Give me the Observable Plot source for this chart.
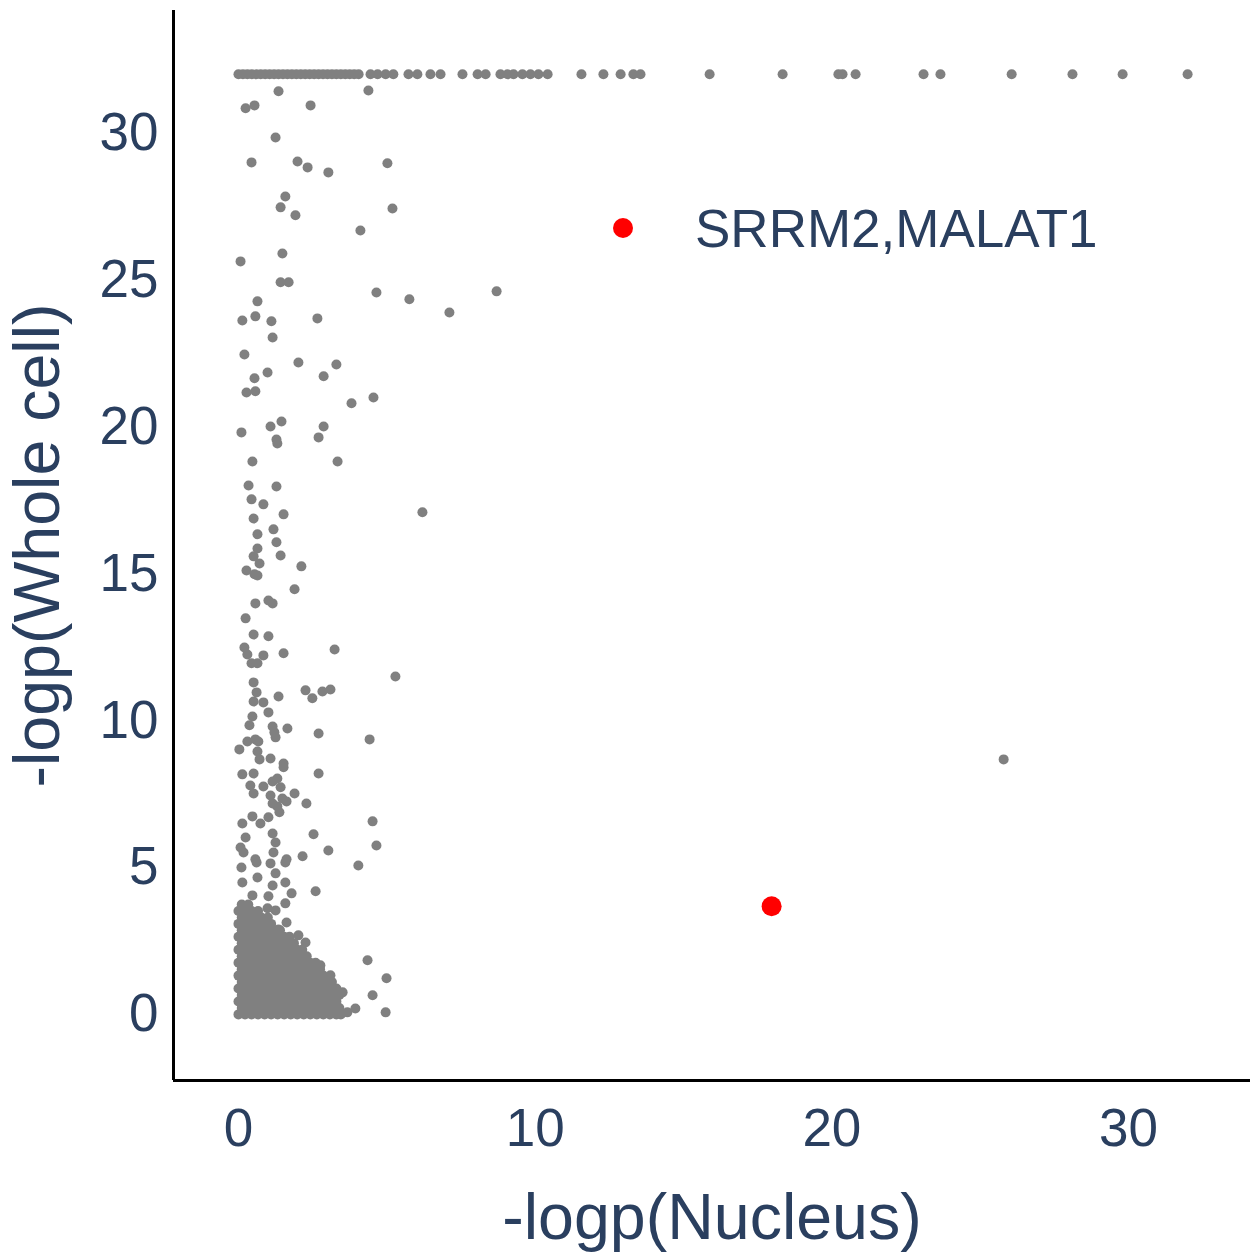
<!DOCTYPE html>
<html><head><meta charset="utf-8">
<script src="https://cdn.jsdelivr.net/npm/d3@7"></script>
<script src="https://cdn.jsdelivr.net/npm/@observablehq/plot@0.6"></script>
<style>
html,body{margin:0;padding:0;background:#fff;}
#wrap{position:relative;width:1250px;height:1258px;}
#legend-dot{position:absolute;left:613px;top:218px;width:20px;height:20px;border-radius:50%;background:#ff0000;}
#legend-text{position:absolute;left:695px;top:202px;font-family:"Liberation Sans",Arial,sans-serif;font-size:53px;line-height:1;color:#2a3f5f;white-space:nowrap;}
</style></head><body>
<div id="wrap"></div>
<script>
// ---- data ----
const xLabel = "-logp(Nucleus)";
const yLabel = "-logp(Whole cell)";
const xTicks = [0, 10, 20, 30];
const yTicks = [0, 5, 10, 15, 20, 25, 30];
const xDomain = [-2.19, 34.11];
const yDomain = [-2.25, 34.17];

// genes whose whole-cell -logp is capped at 32
const capValue = 32;
const cappedNucleus = [0,0.15,0.3,0.45,0.6,0.75,0.9,1.05,1.2,1.35,1.5,1.65,1.8,1.95,2.1,2.25,2.4,2.55,2.7,2.85,3.0,3.15,3.3,3.45,3.6,3.75,3.9,4.05,4.45,4.69,4.96,5.22,5.73,6.03,6.47,6.81,7.55,8.06,8.33,8.83,9.07,9.27,9.57,9.84,10.11,10.42,11.56,12.30,12.88,13.31,13.55,15.88,18.34,20.22,20.36,20.80,23.09,23.66,26.06,28.11,29.80,31.99];

// scattered genes [nucleus, whole cell]
const scatterPoints = [
[0.24,30.84],[0.54,30.94],[1.35,31.42],[2.43,30.94],[4.38,31.45],[1.25,29.85],[0.44,29.0],[1.99,29.03],[2.33,28.83],[3.03,28.66],[5.02,28.97],[1.58,27.84],[1.42,27.47],[1.92,27.2],[5.19,27.43],[4.11,26.68],[0.07,25.63],[1.48,25.9],[1.42,24.92],[1.69,24.92],[4.65,24.57],[5.76,24.34],[7.11,23.89],[8.70,24.61],[0.64,24.27],[0.13,23.62],[0.57,23.76],[1.11,23.59],[2.66,23.69],[1.15,23.04],[0.2,22.46],[2.02,22.19],[3.3,22.12],[0.98,21.85],[0.54,21.65],[2.87,21.72],
[0.27,21.17],[0.57,21.21],[3.81,20.8],[4.55,21.0],[0.1,19.81],[1.08,20.01],[1.45,20.18],[1.28,19.57],[1.31,19.43],[2.87,20.01],[2.7,19.64],[0.47,18.82],[3.34,18.82],[0.34,18.0],[1.28,17.97],[0.44,17.53],[0.84,17.36],[0.51,16.88],[1.52,17.02],[6.2,17.09],[0.64,16.34],[1.18,16.51],[1.28,16.07],[0.64,15.86],[0.51,15.59],[0.71,15.35],[1.42,15.62],[2.12,15.25],[0.27,15.11],[0.54,14.98],[0.64,14.94],[1.89,14.47],[0.57,13.99],[1.01,14.09],[1.15,13.99],[0.24,13.48],[0.51,12.93],[1.01,12.87],[0.2,12.49],[0.3,12.25],[0.84,12.22],[1.52,12.29],[3.24,12.42],[0.44,11.95],[0.64,11.95],
[5.29,11.5],[0.51,11.3],[0.61,10.96],[1.35,10.82],[2.26,11.03],[2.83,10.99],[3.1,11.06],[2.49,10.76],[0.51,10.65],[0.84,10.62],[1.01,10.28],[0.47,10.14],[0.37,9.84],[1.15,9.8],[1.21,9.6],[1.25,9.43],[1.65,9.73],[2.7,9.56],[4.42,9.36],[0.3,9.29],[0.57,9.36],[0.67,9.29],[0.03,9.02],[0.64,8.95],[0.71,8.68],[1.08,8.71],[1.52,8.54],[1.52,8.41],[2.7,8.2],[0.13,8.17],[0.51,8.2],[0.4,7.79],[0.84,7.76],[1.15,7.93],[1.31,8.03],[1.42,7.73],[0.51,7.52],[1.89,7.52],[1.08,7.45],[1.15,7.18],[1.48,7.35],[1.62,7.25],[1.31,7.08],[1.38,6.88],[2.29,7.18],[4.52,6.57],[0.13,6.5],[0.47,6.74],[0.74,6.5],[1.01,6.71],[0.24,6.02],[1.15,6.16],[1.25,5.85],[2.53,6.13],[4.65,5.75],[0.07,5.68],[0.17,5.51],[1.18,5.51],[2.16,5.38],[3.03,5.58],[0.57,5.28],[1.62,5.28],
[4.04,5.07],[0.1,5.0],[0.61,5.17],[1.08,5.14],[1.58,5.17],[1.25,4.8],[0.64,4.66],[0.13,4.49],[1.58,4.49],[1.15,4.39],[2.6,4.19],[1.79,4.12],[1.01,4.02],[0.47,4.05],[1.58,3.78],[1.25,3.54],[0.98,3.61],[1.62,3.13],[1.35,2.89],[2.02,2.69],[2.26,2.45],[1.69,2.35],[1.99,2.01],[2.76,1.67],[2.36,1.57],[3.1,1.33],[4.35,1.84],[4.99,1.23],[4.52,0.65],[4.96,0.07],[3.51,0.75],[3.94,0.2],[3.67,0.07],
[25.79,8.68]
];

// dense cluster of non-significant genes: [whole cell, [nucleus values]]
const clusterRows = [
[0.00,[0,0.22,0.44,0.66,0.88,1.1,1.32,1.54,1.76,1.98,2.2,2.42,2.64,2.86,3.08,3.3,3.45]],
[0.22,[0.11,0.33,0.55,0.77,0.99,1.21,1.43,1.65,1.87,2.09,2.31,2.53,2.75,2.97,3.19,3.4]],
[0.44,[0,0.22,0.44,0.66,0.88,1.1,1.32,1.54,1.76,1.98,2.2,2.42,2.64,2.86,3.08,3.3]],
[0.66,[0.11,0.33,0.55,0.77,0.99,1.21,1.43,1.65,1.87,2.09,2.31,2.53,2.75,2.97,3.19,3.4]],
[0.88,[0,0.22,0.44,0.66,0.88,1.1,1.32,1.54,1.76,1.98,2.2,2.42,2.64,2.86,3.08,3.3]],
[1.10,[0.11,0.33,0.55,0.77,0.99,1.21,1.43,1.65,1.87,2.09,2.31,2.53,2.75,2.97,3.15]],
[1.32,[0,0.22,0.44,0.66,0.88,1.1,1.32,1.54,1.76,1.98,2.2,2.42,2.64,2.86]],
[1.54,[0.11,0.33,0.55,0.77,0.99,1.21,1.43,1.65,1.87,2.09,2.31,2.53,2.75]],
[1.76,[0,0.22,0.44,0.66,0.88,1.1,1.32,1.54,1.76,1.98,2.2,2.42,2.6]],
[1.98,[0.11,0.33,0.55,0.77,0.99,1.21,1.43,1.65,1.87,2.09,2.3]],
[2.20,[0,0.22,0.44,0.66,0.88,1.1,1.32,1.54,1.76,1.98,2.15]],
[2.42,[0.11,0.33,0.55,0.77,0.99,1.21,1.43,1.65,1.87]],
[2.64,[0,0.22,0.44,0.66,0.88,1.1,1.32,1.54,1.72]],
[2.86,[0.11,0.33,0.55,0.77,0.99,1.21,1.4]],
[3.08,[0,0.22,0.44,0.66,0.88,1.1]],
[3.30,[0.11,0.33,0.55,0.77,0.99]],
[3.52,[0,0.22,0.44,0.66]],
[3.74,[0.11,0.33]]
];

// highlighted genes
const highlightLabel = "SRRM2,MALAT1";
const highlightNucleus = [17.97];
const highlightWhole = [3.68];

// ---- build tables ----
const grey = [];
for (const x of cappedNucleus) grey.push({x, y: capValue});
for (const [x, y] of scatterPoints) grey.push({x, y});
for (const [y, xs] of clusterRows) for (const x of xs) grey.push({x, y});
const red = highlightNucleus.map((x, i) => ({x, y: highlightWhole[i], gene: highlightLabel}));

const font = '"Liberation Sans", Arial, sans-serif';
const textColor = "#2a3f5f";

const chart = Plot.plot({
  width: 1250,
  height: 1258,
  marginLeft: 173,
  marginRight: 0,
  marginTop: 10,
  marginBottom: 178,
  style: {fontFamily: font, background: "white"},
  x: {domain: xDomain, label: null},
  y: {domain: yDomain, label: null},
  marks: [
    Plot.axisX({ticks: xTicks, tickSize: 0, tickPadding: 28, fontSize: 53, color: textColor, label: null}),
    Plot.axisY({ticks: yTicks, tickSize: 0, tickPadding: 15, fontSize: 53, color: textColor, label: null}),
    Plot.dot(grey, {x: "x", y: "y", r: 5, fill: "#808080", stroke: "none"}),
    Plot.dot(red, {x: "x", y: "y", r: 10, fill: "#ff0000", stroke: "none"}),
    Plot.ruleX([xDomain[0]], {stroke: "black", strokeWidth: 3}),
    Plot.ruleY([yDomain[0]], {stroke: "black", strokeWidth: 3}),
    Plot.text([xLabel], {frameAnchor: "bottom", textAnchor: "middle", lineAnchor: "middle", dy: 138, fontSize: 64.5, fill: textColor}),
    Plot.text([yLabel], {frameAnchor: "left", textAnchor: "middle", lineAnchor: "middle", dx: -135, rotate: -90, fontSize: 64.5, fill: textColor})
  ]
});

const wrap = document.getElementById("wrap");
wrap.appendChild(chart);
const ld = document.createElement("div"); ld.id = "legend-dot"; wrap.appendChild(ld);
const lt = document.createElement("div"); lt.id = "legend-text"; lt.textContent = highlightLabel; wrap.appendChild(lt);
</script>
</body></html>
